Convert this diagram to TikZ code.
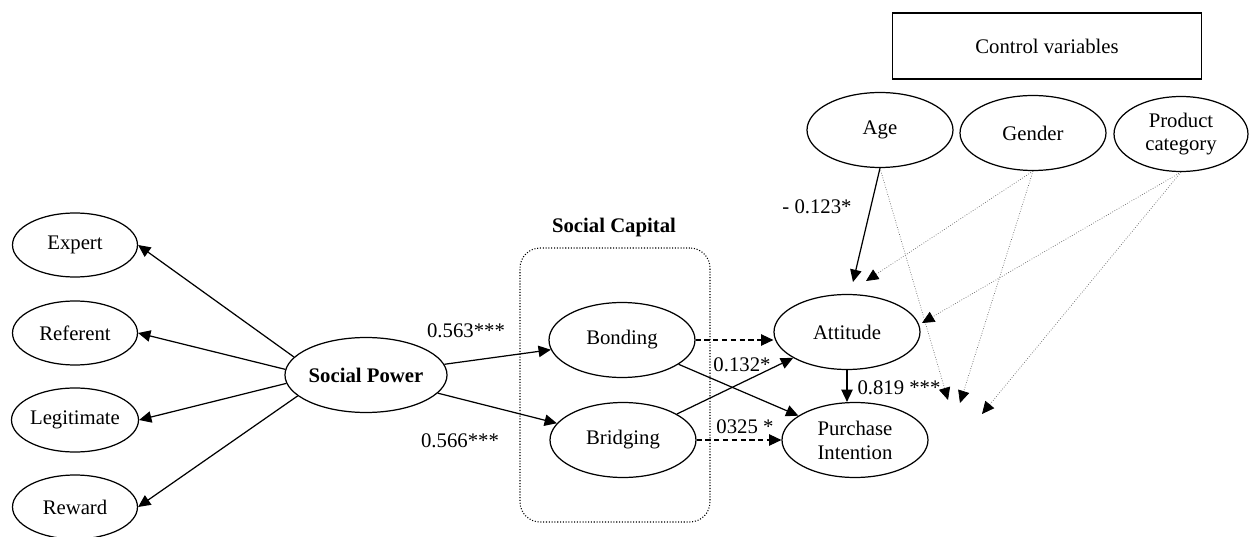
\documentclass[tikz,border=0pt]{standalone}
\usepackage{fontspec}
\setmainfont{Liberation Serif}
\usetikzlibrary{arrows.meta,shapes.geometric}

\newcommand\figfont{\fontsize{11.8}{13.6}\selectfont}

\tikzset{
  latent/.style={ellipse,draw,minimum width=2.92cm,minimum height=1.5cm,inner sep=0pt,align=center,font=\figfont},
  dim/.style={latent,minimum width=2.5cm,minimum height=1.28cm},
  ctrl/.style={-{Triangle[length=7pt,width=6.5pt,color=black]},densely dotted,black!60,thin},
  dashedge/.style={->,dash pattern=on 3pt off 2pt,line width=0.6pt},
  lbl/.style={font=\figfont}
}

\begin{document}
\begin{tikzpicture}[x=0.02cm,y=-0.02cm,>={Triangle[length=7pt,width=6.5pt]},line width=0.7pt]
  \useasboundingbox (0,0) rectangle (1249,537);

  % dimensions of social power
  \node[dim] (expert)   at (75,245) {Expert};
  \node[dim] (referent) at (75,333) {Referent};
  \node[dim] (legit)    at (75,420) {Legitimate};
  \node[dim] (reward)   at (75,507) {Reward};
  \node[latent,font=\figfont\bfseries] (power) at (366,375) {Social Power};

  % social capital
  \node[draw,densely dotted,line width=0.6pt,rounded corners=0.4cm,minimum width=3.8cm,minimum height=5.48cm] (capbox) at (615,385) {};
  \node[font=\figfont\bfseries] (captitle) at (614,228) {Social Capital};
  \node[latent] (bond)   at (622,340) {Bonding};
  \node[latent] (bridge) at (623,440) {Bridging};

  % outcomes
  \node[latent] (att) at (847,332) {Attitude};
  \node[latent] (pi)  at (855,440) {Purchase\\Intention};

  % control variables
  \node[draw,minimum width=6.18cm,minimum height=1.32cm,font=\figfont] (ctrlbox) at (1047,46) {Control variables};
  \node[latent] (age)    at (880,130) {Age};
  \node[latent] (gender) at (1033,133) {Gender};
  \node[latent,minimum width=2.68cm] (prod) at (1181,134) {Product\\category};

  \coordinate (ageatt)  at (853,282);
  \coordinate (genatt)  at (866,281);
  \coordinate (prodatt) at (922,323);
  \coordinate (agepi)   at (948,400);
  \coordinate (genpi)   at (960,403);
  \coordinate (prodpi)  at (982,414);

  \draw[->] (power.166) -- (expert.east);
  \draw[->] (power.176) -- (referent.east);
  \draw[->] (power.186) -- (legit.east);
  \draw[->] (power.197) -- (reward.east);

  \draw[->] (power) -- (bond);
  \draw[->] (power) -- (bridge);
  \draw[dashedge] (bond.east) -- (bond.east -| att.west);
  \draw[->] (bond) -- (pi);
  \draw[->] (bridge) -- (att);
  \draw[dashedge] (bridge.east) -- (bridge.east -| pi.west);
  \draw[->] (att.south) -- (pi.north -| att.south);

  \draw[->] (age.south) -- (ageatt);
  \draw[ctrl] (age.south) -- (agepi);
  \draw[ctrl] (gender.south) -- (genatt);
  \draw[ctrl] (gender.south) -- (genpi);
  \draw[ctrl] (prod.south) -- (prodatt);
  \draw[ctrl] (prod.south) -- (prodpi);

  % path coefficients
  \node[lbl] (c1) at (466,331) {0.563***};
  \node[lbl] (c2) at (460,441) {0.566***};
  \node[lbl] (c3) at (742,365) {0.132*};
  \node[lbl] (c4) at (745,427) {0325 *};
  \node[lbl] (c5) at (899,388) {0.819 ***};
  \node[lbl] (c6) at (817,207) {- 0.123*};
\end{tikzpicture}
\end{document}
